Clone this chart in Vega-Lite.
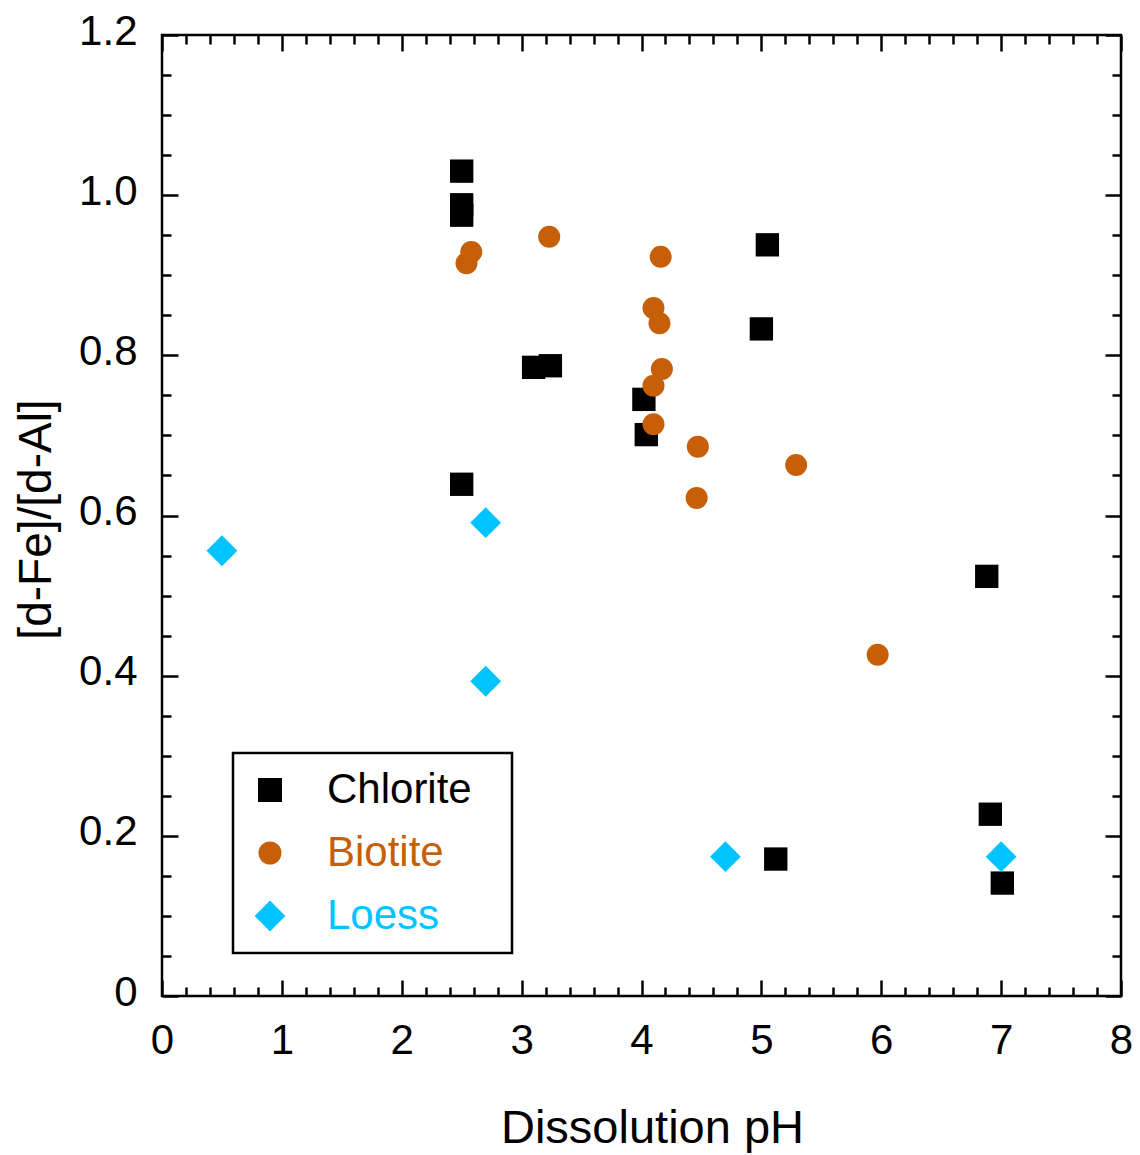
{
  "$schema": "https://vega.github.io/schema/vega-lite/v6.json",
  "width": 959,
  "height": 961,
  "autosize": {"type": "none"},
  "padding": {"left": 162, "top": 35, "right": 19, "bottom": 159},
  "background": "white",
  "config": {
    "view": {"stroke": "black", "strokeWidth": 2.5},
    "font": "Liberation Sans",
    "axis": {"grid": false, "domain": false, "labelFont": "Liberation Sans", "titleFont": "Liberation Sans", "labelColor": "black", "titleColor": "black", "tickColor": "black", "titleFontWeight": "normal"},
    "legend": {"title": null, "orient": "none", "legendX": 71, "legendY": 718, "strokeColor": "black", "fillColor": "white", "padding": 16,
      "labelFontSize": 42, "labelFont": "Liberation Sans", "labelLimit": 400, "labelOffset": 36, "symbolOffset": 0, "symbolSize": 1700, "rowPadding": 21, "symbolStrokeWidth": 0, "symbolOpacity": 1}
  },
  "data": {
    "values": [
      {"pH": 2.50, "ratio": 1.030, "mineral": "Chlorite"},
      {"pH": 2.50, "ratio": 0.988, "mineral": "Chlorite"},
      {"pH": 2.50, "ratio": 0.975, "mineral": "Chlorite"},
      {"pH": 2.50, "ratio": 0.639, "mineral": "Chlorite"},
      {"pH": 3.10, "ratio": 0.785, "mineral": "Chlorite"},
      {"pH": 3.24, "ratio": 0.787, "mineral": "Chlorite"},
      {"pH": 4.02, "ratio": 0.745, "mineral": "Chlorite"},
      {"pH": 4.04, "ratio": 0.701, "mineral": "Chlorite"},
      {"pH": 5.05, "ratio": 0.938, "mineral": "Chlorite"},
      {"pH": 5.00, "ratio": 0.833, "mineral": "Chlorite"},
      {"pH": 5.12, "ratio": 0.171, "mineral": "Chlorite"},
      {"pH": 6.88, "ratio": 0.524, "mineral": "Chlorite"},
      {"pH": 6.91, "ratio": 0.227, "mineral": "Chlorite"},
      {"pH": 7.01, "ratio": 0.141, "mineral": "Chlorite"},
      {"pH": 2.54, "ratio": 0.915, "mineral": "Biotite"},
      {"pH": 2.58, "ratio": 0.929, "mineral": "Biotite"},
      {"pH": 3.23, "ratio": 0.948, "mineral": "Biotite"},
      {"pH": 4.16, "ratio": 0.923, "mineral": "Biotite"},
      {"pH": 4.10, "ratio": 0.859, "mineral": "Biotite"},
      {"pH": 4.15, "ratio": 0.840, "mineral": "Biotite"},
      {"pH": 4.17, "ratio": 0.783, "mineral": "Biotite"},
      {"pH": 4.10, "ratio": 0.762, "mineral": "Biotite"},
      {"pH": 4.10, "ratio": 0.714, "mineral": "Biotite"},
      {"pH": 4.47, "ratio": 0.686, "mineral": "Biotite"},
      {"pH": 4.46, "ratio": 0.622, "mineral": "Biotite"},
      {"pH": 5.29, "ratio": 0.663, "mineral": "Biotite"},
      {"pH": 5.97, "ratio": 0.426, "mineral": "Biotite"},
      {"pH": 0.50, "ratio": 0.556, "mineral": "Loess"},
      {"pH": 2.70, "ratio": 0.591, "mineral": "Loess"},
      {"pH": 2.70, "ratio": 0.393, "mineral": "Loess"},
      {"pH": 4.70, "ratio": 0.174, "mineral": "Loess"},
      {"pH": 7.00, "ratio": 0.174, "mineral": "Loess"}
    ]
  },
  "layer": [
    {
      "mark": {"type": "point", "filled": true, "opacity": 1, "strokeWidth": 0},
      "encoding": {
        "x": {"field": "pH", "type": "quantitative", "scale": {"domain": [0, 8], "nice": false, "zero": false},
          "axis": {"orient": "bottom", "values": [0,1,2,3,4,5,6,7,8], "ticks": false, "labelFontSize": 42, "labelPadding": 24, "labelFlush": false, "labelOverlap": false,
            "title": "Dissolution pH", "titleFontSize": 47, "titleX": 490, "titleY": 132, "titleBaseline": "middle", "titleAlign": "center"}},
        "y": {"field": "ratio", "type": "quantitative", "scale": {"domain": [0, 1.2], "nice": false, "zero": false},
          "axis": {"orient": "left", "values": [0,0.2,0.4,0.6,0.8,1.0,1.2], "ticks": false, "labelFontSize": 42, "labelPadding": 25, "labelOffset": -4, "labelFlush": false, "labelOverlap": false,
            "labelExpr": "datum.value == 0 ? '0' : format(datum.value, '.1f')",
            "title": "[d-Fe]/[d-Al]", "titleFontSize": 46, "titleX": -126, "titleY": 484, "titleBaseline": "middle", "titleAlign": "center", "titleAngle": -90}},
        "shape": {"field": "mineral", "type": "nominal", "scale": {"domain": ["Chlorite", "Biotite", "Loess"], "range": ["square", "circle", "diamond"]},
          "legend": {
            "encode": {
              "legend": {"update": {"strokeWidth": {"value": 2.5}}},
              "symbols": {"update": {"size": {"signal": "datum.value === 'Loess' ? 950 : datum.value === 'Chlorite' ? 576 : 529"}}},
              "labels": {"update": {"text": {"signal": "datum.label + '\u00a0\u00a0\u200b'"}, "fill": {"signal": "datum.value === 'Chlorite' ? '#000000' : datum.value === 'Biotite' ? '#C65F08' : '#00C4FF'"}}}}}},
        "color": {"field": "mineral", "type": "nominal", "scale": {"domain": ["Chlorite", "Biotite", "Loess"], "range": ["#000000", "#C65F08", "#00C4FF"]},
          "legend": {
            "encode": {
              "legend": {"update": {"strokeWidth": {"value": 2.5}}},
              "symbols": {"update": {"size": {"signal": "datum.value === 'Loess' ? 950 : datum.value === 'Chlorite' ? 576 : 529"}}},
              "labels": {"update": {"text": {"signal": "datum.label + '\u00a0\u00a0\u200b'"}, "fill": {"signal": "datum.value === 'Chlorite' ? '#000000' : datum.value === 'Biotite' ? '#C65F08' : '#00C4FF'"}}}}}},
        "size": {"condition": [{"test": "datum.mineral === 'Loess'", "value": 950}, {"test": "datum.mineral === 'Chlorite'", "value": 545}], "value": 484}
      }
    },
    {
      "mark": {"type": "point", "opacity": 0},
      "encoding": {
        "x": {"field": "pH", "type": "quantitative", "axis": {"orient": "bottom", "values": [0,1,2,3,4,5,6,7,8], "labels": false, "title": null, "tickSize": -16, "tickWidth": 2.5}},
        "y": {"field": "ratio", "type": "quantitative", "axis": {"orient": "left", "values": [0,0.2,0.4,0.6,0.8,1.0,1.2], "labels": false, "title": null, "tickSize": -16, "tickWidth": 2.5}}
      }
    },
    {
      "mark": {"type": "point", "opacity": 0},
      "encoding": {
        "x": {"field": "pH", "type": "quantitative", "axis": {"orient": "bottom", "values": [0.2,0.4,0.6,0.8,1.2,1.4,1.6,1.8,2.2,2.4,2.6,2.8,3.2,3.4,3.6,3.8,4.2,4.4,4.6,4.8,5.2,5.4,5.6,5.8,6.2,6.4,6.6,6.8,7.2,7.4,7.6,7.8], "labels": false, "title": null, "tickSize": -9, "tickWidth": 2.5}},
        "y": {"field": "ratio", "type": "quantitative", "axis": {"orient": "left", "values": [0.05,0.1,0.15,0.25,0.3,0.35,0.45,0.5,0.55,0.65,0.7,0.75,0.85,0.9,0.95,1.05,1.1,1.15], "labels": false, "title": null, "tickSize": -9, "tickWidth": 2.5}}
      }
    },
    {
      "mark": {"type": "point", "opacity": 0},
      "encoding": {
        "x": {"field": "pH", "type": "quantitative", "axis": {"orient": "top", "values": [0,1,2,3,4,5,6,7,8], "labels": false, "title": null, "tickSize": -16, "tickWidth": 2.5}},
        "y": {"field": "ratio", "type": "quantitative", "axis": {"orient": "right", "values": [0,0.2,0.4,0.6,0.8,1.0,1.2], "labels": false, "title": null, "tickSize": -16, "tickWidth": 2.5}}
      }
    },
    {
      "mark": {"type": "point", "opacity": 0},
      "encoding": {
        "x": {"field": "pH", "type": "quantitative", "axis": {"orient": "top", "values": [0.2,0.4,0.6,0.8,1.2,1.4,1.6,1.8,2.2,2.4,2.6,2.8,3.2,3.4,3.6,3.8,4.2,4.4,4.6,4.8,5.2,5.4,5.6,5.8,6.2,6.4,6.6,6.8,7.2,7.4,7.6,7.8], "labels": false, "title": null, "tickSize": -9, "tickWidth": 2.5}},
        "y": {"field": "ratio", "type": "quantitative", "axis": {"orient": "right", "values": [0.05,0.1,0.15,0.25,0.3,0.35,0.45,0.5,0.55,0.65,0.7,0.75,0.85,0.9,0.95,1.05,1.1,1.15], "labels": false, "title": null, "tickSize": -9, "tickWidth": 2.5}}
      }
    }
  ],
  "resolve": {"axis": {"x": "independent", "y": "independent"}}
}
